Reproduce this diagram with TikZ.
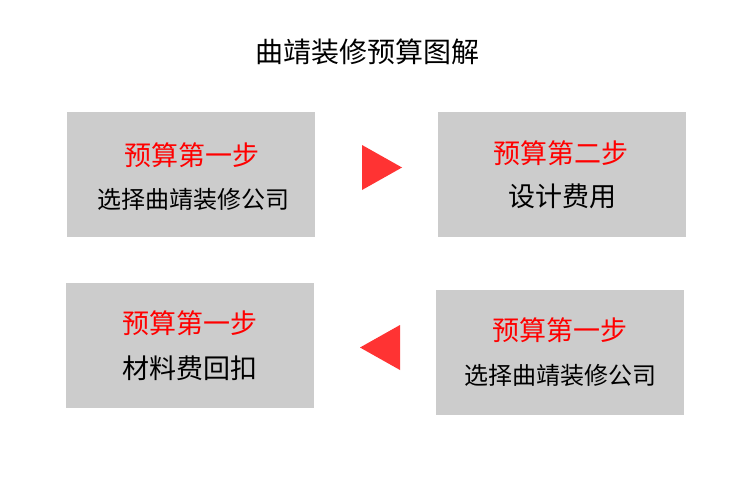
\documentclass[tikz,border=0pt]{standalone}
\usepackage{fontspec}
\setmainfont{Noto Sans CJK SC}
\usetikzlibrary{positioning}
\tikzset{
    stepbox/.style={
        rectangle, fill=gray!40, draw=none, minimum width=248pt, minimum height=125pt, inner sep=0pt
    },
    redtxt/.style={
        text=red, font=\fontsize{27}{30}\selectfont
    },
    blktxt/.style={
        text=black, font=\fontsize{27}{30}\selectfont
    },
    smalltxt/.style={
        text=black, font=\fontsize{24}{28}\selectfont
    },
    tri/.style={
        fill=red!80!white, draw=none
    }
}
\begin{document}
\begin{tikzpicture}[x=1pt,y=-1pt]

    % Canvas
    \fill[white] (0,0) rectangle (735,490);
    \useasboundingbox (0,0) rectangle (735,490);

    % Title
    \node[font=\fontsize{28}{32}\selectfont] (title) at (367,52) {曲靖装修预算图解};

    % Step boxes
    \node[stepbox] (s1) at (191,174) {};
    \node[stepbox] (s2) at (562,174) {};
    \node[stepbox] (s3) at (190,345) {};
    \node[stepbox] (s4) at (560,352) {};

    % Texts
    \node[redtxt] (s1a) at (192,155) {预算第一步};
    \node[smalltxt] (s1b) at (193,199) {选择曲靖装修公司};
    \node[redtxt] (s2a) at (561,153) {预算第二步};
    \node[blktxt] (s2b) at (562,196) {设计费用};
    \node[redtxt] (s3a) at (190,323) {预算第一步};
    \node[blktxt] (s3b) at (190,368) {材料费回扣};
    \node[redtxt] (s4a) at (560,330) {预算第一步};
    \node[smalltxt] (s4b) at (560,375) {选择曲靖装修公司};

    % Arrows
    \fill[tri] (362,145) -- (402,167.5) -- (362,190) -- cycle;
    \fill[tri] (400,325) -- (360,347.5) -- (400,370) -- cycle;

\end{tikzpicture}
\end{document}
